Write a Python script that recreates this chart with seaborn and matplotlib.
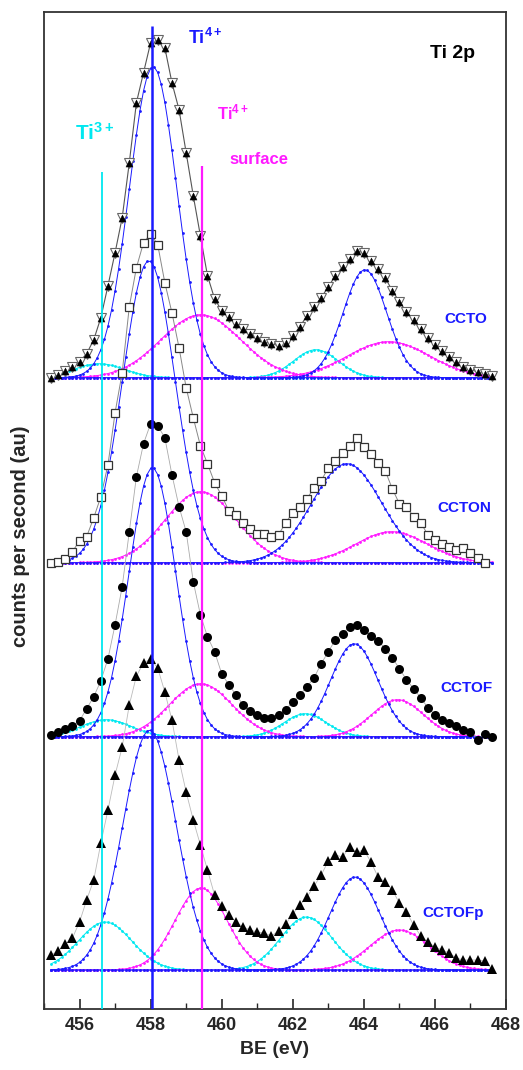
import numpy as np
import pandas as pd
import matplotlib
matplotlib.use("Agg")
import matplotlib.pyplot as plt
import seaborn as sns

# ---------------- data ----------------
BE = np.round(np.arange(455.2, 467.61, 0.2), 1)          # binding energy sampling (eV)

samples = ["CCTO", "CCTON", "CCTOF", "CCTOFp"]

# measured counts (arbitrary units, above each spectrum's own baseline)
cts_CCTO = [0, 3, 7, 11, 16, 24, 38, 60, 92, 125,
            160, 215, 275, 305, 335, 338, 330, 295, 268, 225,
            182, 142, 102, 79, 67, 61, 54, 49, 44, 40,
            36, 34, 32, 35, 42, 51, 62, 71, 80, 91,
            102, 111, 119, 127, 125, 117, 109, 100, 87, 76,
            66, 58, 49, 40, 33, 27, 21, 16, 11, 8,
            6, 4, 2]
cts_CCTON = [0, 1, 4, 11, 22, 26, 45, 66, 98, 150,
             190, 256, 295, 320, 329, 318, 280, 250, 215, 175,
             145, 117, 99, 80, 67, 52, 48, 40, 34, 29,
             29, 26, 28, 40, 50, 56, 64, 75, 82, 95,
             102, 110, 117, 125, 116, 109, 100, 92, 74, 59,
             56, 46, 40, 28, 23, 19, 16, 13, 15, 10,
             5, 0]
cts_CCTOF = [2, 5, 8, 11, 16, 28, 40, 56, 78, 112,
             150, 205, 260, 293, 313, 311, 299, 262, 230, 205,
             155, 122, 100, 85, 63, 52, 42, 32, 26, 22,
             19, 19, 22, 27, 35, 42, 50, 59, 73, 85,
             97, 103, 110, 112, 107, 101, 96, 88, 79, 68,
             57, 48, 39, 29, 22, 17, 14, 11, 7, 5,
             -3, 3, 0]
cts_CCTOFp = [15, 19, 26, 32, 48, 70, 90, 127, 160, 195,
              223, 265, 294, 307, 311, 302, 278, 250, 210, 178,
              150, 125, 100, 75, 64, 55, 48, 43, 40, 38,
              37, 34, 39, 46, 56, 65, 73, 84, 95, 109,
              115, 113, 123, 118, 120, 108, 93, 88, 80, 67,
              58, 45, 34, 28, 23, 20, 17, 12, 10, 10,
              10, 9, 1]

# fitted components: centre (eV), height, sigma (eV) for CCTO, CCTON, CCTOF, CCTOFp
ti3_p32_center = [456.55, np.nan, 456.75, 456.72]
ti3_p32_height = [14, 0, 17, 48]
ti3_p32_sigma = [0.70, 0.70, 0.70, 0.75]

ti4_p32_center = [458.07, 457.95, 458.05, 457.97]
ti4_p32_height = [311, 302, 269, 240]
ti4_p32_sigma = [0.67, 0.74, 0.66, 0.75]

surf_p32_center = [459.41, 459.41, 459.41, 459.42]
surf_p32_height = [63, 71, 53, 82]
surf_p32_sigma = [1.12, 1.00, 0.88, 0.73]

ti3_p12_center = [462.65, np.nan, 462.35, 462.38]
ti3_p12_height = [28, 0, 23, 53]
ti3_p12_sigma = [0.62, 0.60, 0.60, 0.72]

ti4_p12_center = [464.03, 463.52, 463.73, 463.75]
ti4_p12_height = [108, 99, 93, 93]
ti4_p12_sigma = [0.61, 0.98, 0.67, 0.70]

surf_p12_center = [464.70, 464.78, 464.95, 465.00]
surf_p12_height = [36, 31, 37, 40]
surf_p12_sigma = [1.15, 1.00, 0.72, 0.82]

# reference energies of the marked states
ref_labels = ["Ti3+", "Ti4+", "Ti4+ surface"]
ref_BE = [456.62, 458.05, 459.45]

# ---------------- layout / style (not data) ----------------
offset = {"CCTO": 631.0, "CCTON": 446.0, "CCTOF": 272.0, "CCTOFp": 38.7}
ref_top = [836.7, 982.7, 842.7]
CYAN, BLUE, MAG = "#00e8f0", "#1a1aff", "#ff1aff"

sns.set_style("white")
plt.rcParams["font.family"] = ["Liberation Sans", "DejaVu Sans"]
plt.rcParams["font.weight"] = "bold"
plt.rcParams["mathtext.fontset"] = "custom"
plt.rcParams["mathtext.rm"] = "Liberation Sans:bold"
plt.rcParams["mathtext.bf"] = "Liberation Sans:bold"
plt.rcParams["mathtext.it"] = "Liberation Sans:bold"

fig = plt.figure(figsize=(5.23, 10.70), dpi=100)
ax = fig.add_axes([44 / 523, (1070 - 1008.7) / 1070, 462 / 523, 996.7 / 1070])

grid = np.round(np.arange(455.2, 467.61, 0.1), 2)

components = [
    (ti3_p32_center, ti3_p32_height, ti3_p32_sigma, CYAN),
    (ti3_p12_center, ti3_p12_height, ti3_p12_sigma, CYAN),
    (surf_p32_center, surf_p32_height, surf_p32_sigma, MAG),
    (surf_p12_center, surf_p12_height, surf_p12_sigma, MAG),
    (ti4_p32_center, ti4_p32_height, ti4_p32_sigma, BLUE),
    (ti4_p12_center, ti4_p12_height, ti4_p12_sigma, BLUE),
]

for i, s in enumerate(samples):
    off = offset[s]
    for cen, hgt, sig, col in components:
        if np.isnan(cen[i]):
            continue
        prof = hgt[i] * np.exp(-0.5 * ((grid - cen[i]) / sig[i]) ** 2)
        df = pd.DataFrame({"BE": grid, "I": off + prof})
        sns.lineplot(data=df, x="BE", y="I", ax=ax, color=col, lw=0.7,
                     marker="o", markersize=2.0, markeredgewidth=0,
                     errorbar=None, zorder=2)

series = {"CCTO": cts_CCTO, "CCTON": cts_CCTON, "CCTOF": cts_CCTOF, "CCTOFp": cts_CCTOFp}
for s in samples:
    vals = np.array(series[s], dtype=float)
    x = BE[:len(vals)]
    df = pd.DataFrame({"BE": x, "I": offset[s] + vals})
    if s == "CCTO":
        sns.lineplot(data=df, x="BE", y="I", ax=ax, color="#555555", lw=0.8,
                     marker="v", markersize=6.5, markerfacecolor="white",
                     markeredgecolor="#666666", markeredgewidth=0.8,
                     errorbar=None, zorder=3)
        sns.scatterplot(data=df, x="BE", y="I", ax=ax, marker="^", s=26,
                        color="black", edgecolor="black", linewidth=0.3, zorder=4)
    elif s == "CCTON":
        sns.lineplot(data=df, x="BE", y="I", ax=ax, color="#888888", lw=0.7,
                     marker="s", markersize=6, markerfacecolor="white",
                     markeredgecolor="#333333", markeredgewidth=0.9,
                     errorbar=None, zorder=3)
    elif s == "CCTOF":
        sns.lineplot(data=df, x="BE", y="I", ax=ax, color="#aaaaaa", lw=0.6,
                     marker="o", markersize=6.5, markerfacecolor="black",
                     markeredgecolor="black", markeredgewidth=0,
                     errorbar=None, zorder=3)
    else:
        sns.lineplot(data=df, x="BE", y="I", ax=ax, color="#bbbbbb", lw=0.6,
                     marker="^", markersize=7.5, markerfacecolor="black",
                     markeredgecolor="black", markeredgewidth=0,
                     errorbar=None, zorder=3)

# reference lines
ax.vlines(ref_BE, 0, ref_top, colors=[CYAN, BLUE, MAG], linewidths=[1.3, 1.8, 1.6], zorder=5)

# annotations
ax.text(455.88, 875.7, r"Ti$^{3+}$", color=CYAN, fontsize=15, va="center", ha="left")
ax.text(459.05, 970.7, r"Ti$^{4+}$", color=BLUE, fontsize=13, va="center", ha="left")
ax.text(459.87, 896.7, r"Ti$^{4+}$", color=MAG, fontsize=12, va="center", ha="left")
ax.text(460.23, 849.7, "surface", color=MAG, fontsize=12, va="center", ha="left")
ax.text(465.86, 955.7, "Ti 2p", color="black", fontsize=14, va="center", ha="left")
label_pos = {"CCTO": (466.28, 689.7), "CCTON": (466.06, 500.7),
             "CCTOF": (466.14, 320.7), "CCTOFp": (465.66, 95.7)}
for s in samples:
    ax.text(*label_pos[s], s, color=BLUE, fontsize=11, va="center", ha="left")

ax.set_xlim(455, 468)
ax.set_ylim(0, 996.7)
ax.set_xticks([456, 458, 460, 462, 464, 466, 468])
ax.set_xticks(np.arange(455, 468.1, 1), minor=True)
ax.set_yticks([])
ax.tick_params(axis="x", which="major", direction="in", length=7, width=1.2,
               labelsize=13, pad=6, bottom=True, top=False)
ax.tick_params(axis="x", which="minor", direction="in", length=4, width=1.0,
               bottom=True, top=False)
for lab in ax.get_xticklabels():
    lab.set_fontweight("bold")
for sp in ax.spines.values():
    sp.set_linewidth(1.3)
    sp.set_color("#333333")

ax.set_xlabel("BE (eV)", fontsize=14, fontweight="bold", labelpad=5)
ax.set_ylabel("counts per second (au)", fontsize=14.5, fontweight="bold")
ax.yaxis.set_label_coords(-0.03, 0.474)

fig.savefig("out.png", dpi=100)
